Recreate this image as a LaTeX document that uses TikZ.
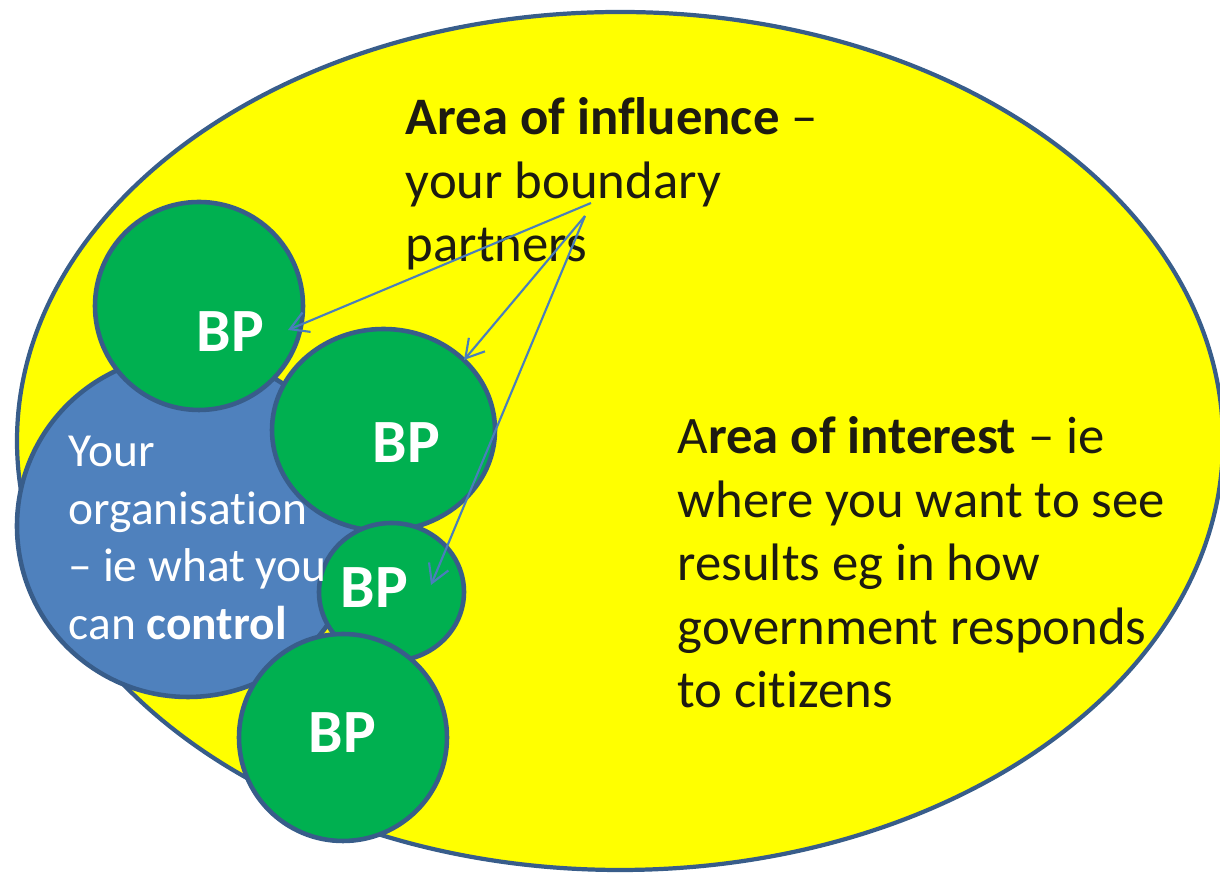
\documentclass[tikz,border=0pt]{standalone}
\usepackage{fontspec}
\setmainfont{Carlito}[Ligatures=NoCommon]
\usetikzlibrary{shapes.geometric,arrows.meta}
\definecolor{rim}{HTML}{385D8A}
\definecolor{areafill}{HTML}{FFFF00}
\definecolor{bpfill}{HTML}{00B050}
\definecolor{orgfill}{HTML}{4F81BD}
\definecolor{ink}{HTML}{1D1B11}
\definecolor{pointer}{HTML}{4A7EBB}
\tikzset{
	blob/.style 2 args={ellipse,draw=rim,line width=1.3pt,inner sep=0pt,minimum width=#1,minimum height=#2},
	bp/.style 2 args={blob={#1}{#2},fill=bpfill},
	bptext/.style={text=white,font=\fontsize{17.5}{20}\selectfont\bfseries,inner sep=0pt},
	blurb/.style={text=ink,align=left,anchor=base west,inner sep=0pt,font=\fontsize{15}{18.1}\selectfont},
	pointsto/.style={draw=pointer,line width=0.6pt,-{Straight Barb[length=1.8mm,width=2.1mm]}}
}
\begin{document}
\begin{tikzpicture}
	\useasboundingbox (0,0) rectangle (12.2,8.75);
	\node [blob={12.06cm}{8.58cm},fill=areafill,line width=1.2pt] (interest) at (6.20,4.34) {};
	\node [blob={3.42cm}{3.42cm},fill=orgfill] (org) at (1.88,3.49) {};
	\node [bp={2.08cm}{2.08cm}] (bp1) at (1.99,5.69) {};
	\node [bp={2.23cm}{2.02cm}] (bp2) at (3.835,4.45) {};
	\node [bp={1.45cm}{1.38cm}] (bp3) at (3.915,2.83) {};
	\node [bp={2.08cm}{2.07cm}] (bp4) at (3.43,1.375) {};

	\node [bptext] (bp1txt) at (2.305,5.43) {BP};
	\node [bptext] (bp2txt) at (4.065,4.32) {BP};
	\node [bptext] (bp3txt) at (3.745,2.87) {BP};
	\node [bptext] (bp4txt) at (3.425,1.425) {BP};

	% base anchor sits on the last line
	\node [blurb] (influence) at (4.05,6.13) {\textbf{Area of influence} --\\your boundary\\partners};
	\node [blurb] (interesttxt) at (6.77,1.67) {A\textbf{rea of interest} -- ie\\where you want to see\\results eg in how\\government responds\\to citizens};
	\node [blurb,text=white,font=\fontsize{13.5}{16.5}\selectfont] (orgtxt) at (0.68,2.35) {Your\\organisation\\-- ie what you\\can \textbf{control}};

	\coordinate (apexA) at (5.91,6.72);
	\coordinate (apexB) at (5.85,6.59);
	\coordinate (tip1) at (2.88,5.45);
	\coordinate (tip2) at (4.64,5.15);
	\coordinate (tip3) at (4.31,2.90);
	\draw [pointsto] (apexA) -- (tip1);
	\draw [pointsto] (apexB) -- (tip2);
	\draw [pointsto] (apexB) -- (tip3);
\end{tikzpicture}
\end{document}
